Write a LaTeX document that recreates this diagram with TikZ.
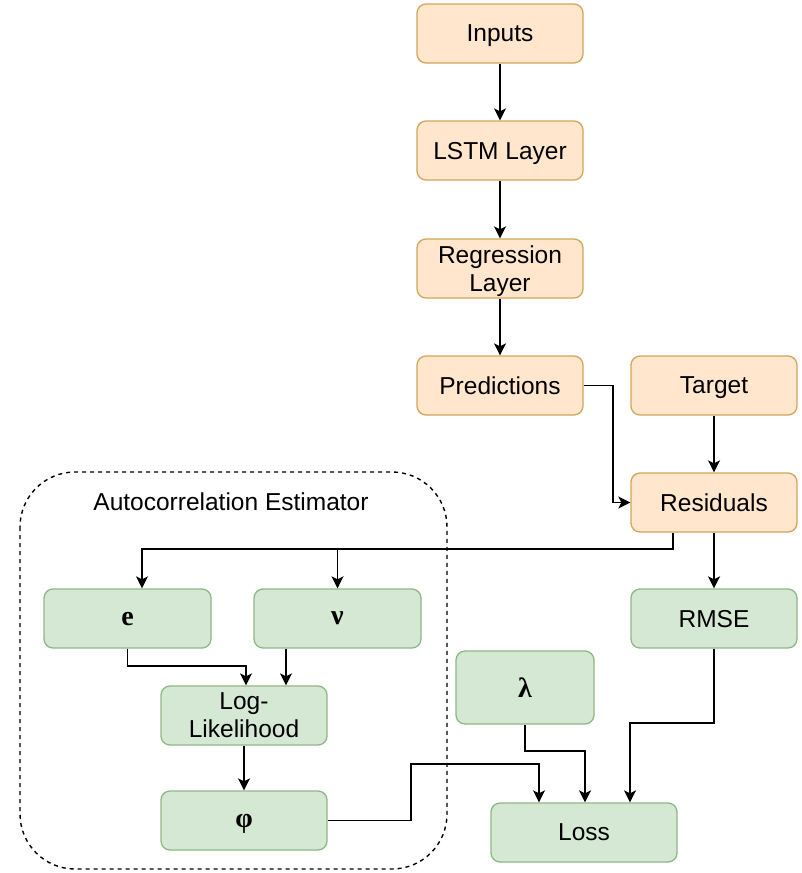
\documentclass[tikz,border=0pt]{standalone}
\usepackage{fontspec}
\setmainfont{Liberation Sans}
\newfontfamily\grk{Liberation Serif}
\usetikzlibrary{arrows.meta,calc}

\definecolor{orfill}{HTML}{FFE6CC}
\definecolor{ordraw}{HTML}{D2A65A}
\definecolor{grfill}{HTML}{D5E8D4}
\definecolor{grdraw}{HTML}{8FB785}

\tikzset{
  box/.style={rectangle, rounded corners=9pt, line width=1.3pt,
    minimum width=166pt, minimum height=59pt, inner sep=0pt, align=center,
    text depth=0pt, font=\fontsize{24.5}{28}\selectfont},
  orbox/.style={box, fill=orfill, draw=ordraw},
  grbox/.style={box, fill=grfill, draw=grdraw},
  sym/.style={font=\grk\bfseries\fontsize{28}{30}\selectfont},
  link/.style={line width=1.9pt, -{Stealth[length=12pt,width=12pt,inset=3pt]}},
  group/.style={dashed, dash pattern=on 4pt off 4pt, line width=1.4pt, rounded corners=55pt}
}

\begin{document}
\begin{tikzpicture}[x=1pt,y=-1pt]
\useasboundingbox (0,0) rectangle (802,873);

% autocorrelation group frame
\draw[group] (20,472) rectangle (447,869);
\node[font=\fontsize{24.5}{28}\selectfont] (grouptitle) at (231,502) {Autocorrelation Estimator};

% network pipeline
\node[orbox] (inputs) at (500,33.5) {Inputs};
\node[orbox] (lstm)   at (500,150.5) {LSTM Layer};
\node[orbox] (reg)    at (500,268.5) {Regression\\Layer};
\node[orbox] (pred)   at (500,385.5) {Predictions};
\node[orbox] (target) at (714,385.5) {Target};
\node[orbox] (res)    at (714,502.5) {Residuals};

% estimator and loss terms
\node[grbox, minimum width=167pt, sym] (e)  at (127.5,618.5) {e};
\node[grbox, minimum width=167pt, sym] (nu) at (337.5,618.5) {ν};
\node[grbox] (ll)   at (244,715.5) {Log-\\Likelihood};
\node[grbox, sym] (phi) at (244,820.5) {φ};
\node[grbox] (rmse) at (714,618.5) {RMSE};
\node[grbox, minimum width=138pt, minimum height=73pt, sym] (lam) at (525,687.5) {λ};
\node[grbox, minimum width=186pt] (loss) at (584,832.5) {Loss};

% connectors
\draw[link] (inputs) -- (lstm);
\draw[link] (lstm) -- (reg);
\draw[link] (reg) -- (pred);
\draw[link] (pred.east) -- ++(29,0) |- (res.west);
\draw[link] (target) -- (res);
\draw[link] (res) -- (rmse);
\draw[link] ($(res.south)+(-41,0)$) |- ($(e.north)+(14.5,-39)$) -- ($(e.north)+(14.5,0)$);
\draw[link] ($(nu.north)+(0,-39)$) -- (nu.north);
\draw[link] (e.south) |- ($(ll.north)+(2,-19)$) -- ($(ll.north)+(2,0)$);
\draw[link] ($(nu.south)+(-51.5,0)$) -- ($(ll.north)+(42,0)$);
\draw[link] (ll) -- (phi);
\draw[link] (phi.east) -- ++(83,0) |- ($(loss.north)+(-45,-38)$) -- ($(loss.north)+(-45,0)$);
\draw[link] (lam.south) |- ($(loss.north)+(1,-51)$) -- ($(loss.north)+(1,0)$);
\draw[link] (rmse.south) |- ($(loss.north)+(46,-79)$) -- ($(loss.north)+(46,0)$);
\end{tikzpicture}
\end{document}
